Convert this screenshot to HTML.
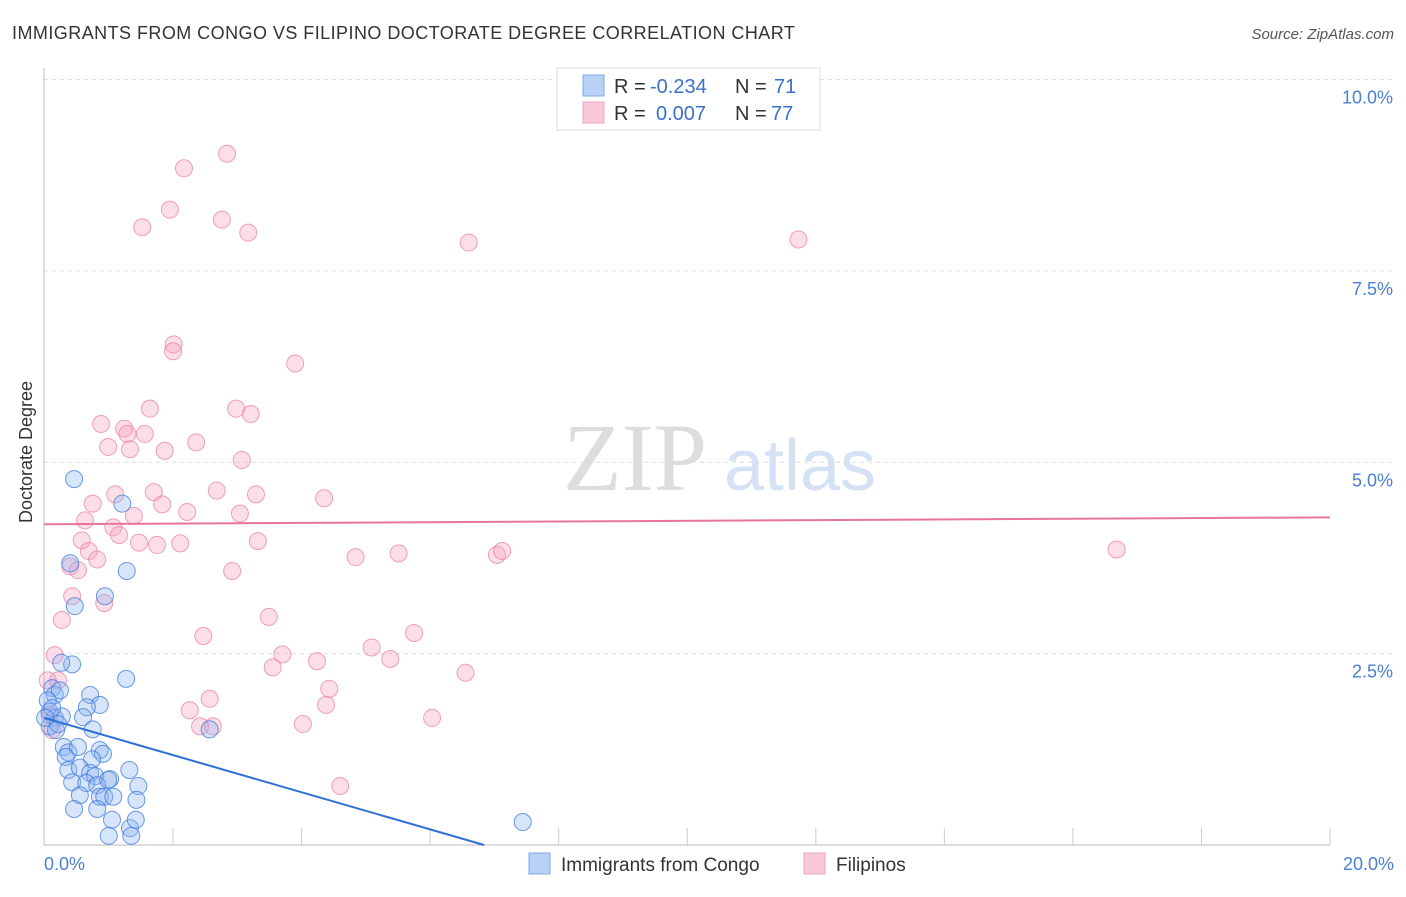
<!DOCTYPE html>
<html><head><meta charset="utf-8"><style>
body{margin:0;background:#fff;font-family:"Liberation Sans",sans-serif;}
</style></head><body>
<svg width="1406" height="892" xmlns="http://www.w3.org/2000/svg" font-family="Liberation Sans, sans-serif">
<text x="12" y="39" font-size="18" fill="#333" letter-spacing="0.45">IMMIGRANTS FROM CONGO VS FILIPINO DOCTORATE DEGREE CORRELATION CHART</text>
<text x="1394" y="39" font-size="15" fill="#555" font-style="italic" text-anchor="end">Source: ZipAtlas.com</text>
<text x="36" y="456" font-size="18" fill="#333" text-anchor="middle" transform="rotate(-90 32 456)">Doctorate Degree</text>
<g><text x="635" y="490" font-size="96" fill="#ddd" font-family="Liberation Serif, serif" text-anchor="middle">ZIP</text><text x="800" y="490" font-size="72" fill="#d5e2f5" text-anchor="middle">atlas</text></g>
<g id="grid"></g><g id="marks"></g>
<g>
<rect x="557" y="68" width="263" height="62" fill="#fff" stroke="#ddd"/>
<rect x="583" y="75" width="21" height="21" fill="#b8d1f5" stroke="#7fa8e6"/>
<rect x="583" y="102" width="21" height="21" fill="#f9c8d8" stroke="#eea3bd"/>
<text x="614" y="93" font-size="20" fill="#333">R =</text>
<text x="650" y="93" font-size="20" fill="#3a70cc">-0.234</text>
<text x="735" y="93" font-size="20" fill="#333">N =</text>
<text x="774" y="93" font-size="20" fill="#3a70cc">71</text>
<text x="614" y="120" font-size="20" fill="#333">R =</text>
<text x="656" y="120" font-size="20" fill="#3a70cc">0.007</text>
<text x="735" y="120" font-size="20" fill="#333">N =</text>
<text x="771" y="120" font-size="20" fill="#3a70cc">77</text>
</g>
<g>
<rect x="529" y="853" width="21" height="21" fill="#b8d1f5" stroke="#7fa8e6"/>
<text x="561" y="871" font-size="19" fill="#333">Immigrants from Congo</text>
<rect x="804" y="853" width="21" height="21" fill="#f9c8d8" stroke="#eea3bd"/>
<text x="836" y="871" font-size="19" fill="#333">Filipinos</text>
</g>
</svg>
<script>
const yTicks=[2.5,5,7.5,10];
const yTickLabels=["2.5%","5.0%","7.5%","10.0%"];
const xTicks=[0,2,4,6,8,10,12,14,16,18,20];
const blueX=[0.46,1.21,0.40,1.28,0.94,0.47,1.27,0.43,0.26,0.71,0.86,0.66,0.60,0.12,0.16,0.24,0.05,0.08,0.16,0.27,0.08,0.18,0.75,2.57,0.30,0.37,0.52,0.86,0.91,0.33,0.74,0.37,0.55,0.71,0.79,1.02,1.32,0.43,0.65,0.82,0.99,1.46,0.55,0.86,0.93,1.07,1.43,0.46,0.82,1.05,1.33,1.42,1.00,1.35,7.44,0.21,0.12,0.01];
const blueY=[4.78,4.46,3.68,3.58,3.25,3.12,2.17,2.36,2.38,1.96,1.83,1.80,1.67,2.05,1.96,2.02,1.89,1.74,1.66,1.68,1.55,1.50,1.51,1.51,1.28,1.21,1.28,1.24,1.19,1.15,1.12,0.98,1.01,0.94,0.90,0.86,0.98,0.82,0.81,0.78,0.85,0.77,0.65,0.63,0.63,0.63,0.59,0.47,0.47,0.33,0.22,0.33,0.12,0.12,0.30,1.58,1.79,1.66];
const pinkX=[2.84,2.17,1.95,1.52,2.76,3.17,6.60,11.73,2.01,2.00,3.90,1.64,2.98,3.21,0.88,1.24,1.56,1.29,0.99,1.33,1.87,2.36,3.07,1.70,2.68,3.29,1.10,0.75,1.83,4.35,2.22,3.04,1.39,0.63,1.07,1.16,0.58,1.47,1.75,2.11,3.32,0.69,0.82,4.84,5.51,7.04,7.12,16.68,0.40,0.52,2.92,0.43,0.93,0.27,3.49,2.47,5.75,5.09,3.70,5.38,3.55,4.24,6.55,0.16,0.21,4.43,2.57,4.38,2.26,6.03,4.02,2.62,2.42,4.60,0.05,0.08,0.12];
const pinkY=[9.03,8.84,8.30,8.07,8.17,8.00,7.87,7.91,6.54,6.45,6.29,5.70,5.70,5.63,5.50,5.44,5.37,5.37,5.20,5.17,5.15,5.26,5.03,4.61,4.63,4.58,4.58,4.46,4.45,4.53,4.35,4.33,4.30,4.24,4.15,4.05,3.98,3.95,3.92,3.94,3.97,3.84,3.73,3.76,3.81,3.79,3.84,3.86,3.64,3.59,3.58,3.25,3.16,2.94,2.98,2.73,2.77,2.58,2.49,2.43,2.32,2.40,2.25,2.48,2.15,2.04,1.91,1.83,1.76,1.66,1.58,1.55,1.55,0.77,2.15,1.70,1.50];
const blueTrend=[1.66,-0.2427];
const pinkTrend=[4.19,0.0045];
const NS="http://www.w3.org/2000/svg";
const X0=44.5,X1=1330,Y0=845,YT=79.5;
const sx=v=>X0+(X1-X0)*v/20;
const sy=v=>Y0-(Y0-YT)*v/10;
function mk(tag,attrs,parent){const e=document.createElementNS(NS,tag);for(const k in attrs)e.setAttribute(k,attrs[k]);parent.appendChild(e);return e;}
const grid=document.getElementById('grid'),marks=document.getElementById('marks');
yTicks.forEach((t,i)=>{
 const l=mk('line',{x1:44,x2:1394,y1:sy(t),y2:sy(t),stroke:'#ddd','stroke-dasharray':'4,4'},grid);
 
 
 const tx=mk('text',{x:1393,y:sy(t)+24,'font-size':18,fill:'#4a7fd4','text-anchor':'end'},grid);
 tx.textContent=yTickLabels[i];
 
 
});
const ax=mk('line',{x1:44,x2:44,y1:68,y2:845,stroke:'#bbb'},grid);


const xa=mk('line',{x1:44,x2:1330,y1:845,y2:845,stroke:'#bbb'},grid);


xTicks.slice(1).forEach(t=>{
 const l=mk('line',{x1:sx(t),x2:sx(t),y1:828,y2:845,stroke:'#ccc'},grid);
 
 
});
const xl0=mk('text',{x:44,y:870,'font-size':18,fill:'#4a7fd4'},grid);xl0.textContent='0.0%';


const xl1=mk('text',{x:1394,y:870,'font-size':18,fill:'#4a7fd4','text-anchor':'end'},grid);xl1.textContent='20.0%';


pinkX.forEach((x,i)=>{
 const c=mk('circle',{cx:sx(x),cy:sy(pinkY[i]),r:8.5,fill:'rgba(245,160,190,0.35)',stroke:'rgba(235,130,165,0.75)','stroke-width':1},marks);
 
 
});
blueX.forEach((x,i)=>{
 const c=mk('circle',{cx:sx(x),cy:sy(blueY[i]),r:8.5,fill:'rgba(140,180,240,0.35)',stroke:'rgba(60,120,220,0.75)','stroke-width':1},marks);
 
 
});
const bxEnd=Math.min(20,-blueTrend[0]/blueTrend[1]);
const bl=mk('line',{x1:sx(0),y1:sy(blueTrend[0]),x2:sx(bxEnd),y2:sy(blueTrend[0]+blueTrend[1]*bxEnd),stroke:'#2f6fd6','stroke-width':2},marks);


const pl=mk('line',{x1:sx(0),y1:sy(pinkTrend[0]),x2:sx(20),y2:sy(pinkTrend[0]+pinkTrend[1]*20),stroke:'#e8749c','stroke-width':2},marks);


</script>
</body></html>
